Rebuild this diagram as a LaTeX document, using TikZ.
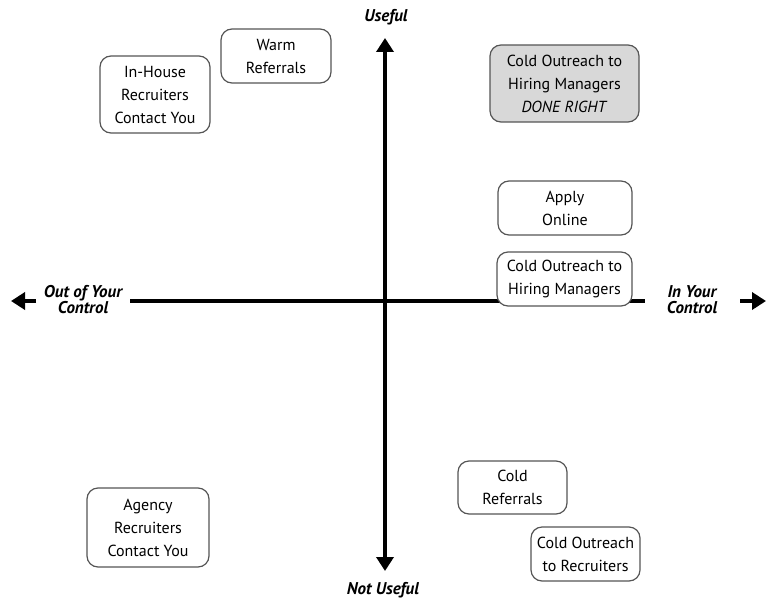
\documentclass[tikz,border=0pt]{standalone}
\usepackage{fontspec}
\setmainfont{PT Sans}
\definecolor{boxgray}{RGB}{85, 85, 85}
\definecolor{donegray}{RGB}{216, 216, 216}
\usetikzlibrary{arrows.meta}

\begin{document}
\begin{tikzpicture}[
  x=1pt, y=-1pt,
  qbox/.style={draw=boxgray, fill=white, line width=1.2pt, rounded corners=11pt, align=center, font=\fontsize{16}{23}\selectfont, inner sep=0pt},
  axis/.style={line width=4pt, draw=black},
  tip/.style={-{Triangle[length=14pt, width=17pt]}},
  axlabel/.style={font=\fontsize{17}{16}\selectfont\bfseries\itshape, align=center}
]
  \useasboundingbox (0,0) rectangle (775,607);

  % axes
  \coordinate (top) at (385,38);
  \coordinate (bottom) at (385,571);
  \coordinate (xleft) at (130,301);
  \coordinate (xright) at (645,301);
  \draw[axis, {Triangle[length=14pt, width=17pt]}-{Triangle[length=14pt, width=17pt]}] (bottom) -- (top);
  \draw[axis] (xleft) -- (xright);
  \coordinate (ltail) at (36,301);
  \coordinate (ltip) at (11,301);
  \coordinate (rtail) at (740,301);
  \coordinate (rtip) at (766,301);
  \draw[axis, tip] (ltail) -- (ltip);
  \draw[axis, tip] (rtail) -- (rtip);

  \node[axlabel] (useful) at (386,17) {Useful};
  \node[axlabel] (notuseful) at (383,590) {Not Useful};
  \node[axlabel] (outctrl) at (83,300) {Out of Your\\Control};
  \node[axlabel] (inctrl) at (692,300) {In Your\\Control};

  % boxes
  \node[qbox, minimum width=110pt, minimum height=54pt] (warm) at (276,56) {Warm\\Referrals};
  \node[qbox, minimum width=110pt, minimum height=77pt] (inhouse) at (155,94.5) {In-House\\Recruiters\\Contact You};
  \node[qbox, fill=donegray, minimum width=149pt, minimum height=77pt] (doneright) at (564.5,83.5) {Cold Outreach to\\Hiring Managers\\\textit{DONE RIGHT}};
  \node[qbox, minimum width=134pt, minimum height=54pt] (apply) at (565,208) {Apply\\Online};
  \node[qbox, minimum width=135pt, minimum height=54pt] (outreach) at (564.5,279) {Cold Outreach to\\Hiring Managers};
  \node[qbox, minimum width=109pt, minimum height=53pt] (coldref) at (512.5,487.5) {Cold\\Referrals};
  \node[qbox, minimum width=109pt, minimum height=54pt] (recruit) at (585.5,554) {Cold Outreach\\to Recruiters};
  \node[qbox, minimum width=122pt, minimum height=79pt] (agency) at (148,527.5) {Agency\\Recruiters\\Contact You};
\end{tikzpicture}
\end{document}
